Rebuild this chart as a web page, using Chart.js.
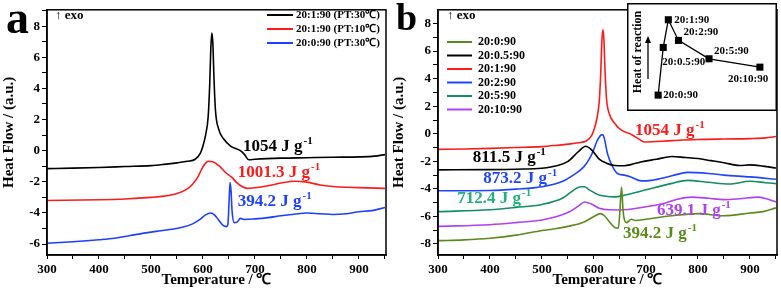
<!DOCTYPE html>
<html>
<head>
<meta charset="utf-8">
<script src="https://cdn.jsdelivr.net/npm/chart.js@4.4.1/dist/chart.umd.min.js"></script>
<style>
  body { margin: 0; background: #fff; }
  #wrap { position: relative; width: 781px; height: 292px; }
  canvas { position: absolute; }
</style>
</head>
<body>
<div id="wrap">
  <canvas id="chartA" width="390" height="292" style="left:0;top:0"></canvas>
  <canvas id="chartB" width="391" height="292" style="left:390px;top:0"></canvas>
  <canvas id="inset" width="150" height="108" style="left:627px;top:3px"></canvas>
</div>
<script>
// panel a: DSC curves, same composition at different preparation temperatures
const aLabels = ['20:1:90 (PT:30℃)', '20:1:90 (PT:10℃)', '20:0:90 (PT:30℃)'];
const aHeat = [1054, 1001.3, 394.2];

const aBlackT = [300, 350, 400, 450, 500, 525, 550, 570, 585, 595, 600, 605, 610, 613, 615, 617, 619, 621, 624, 630, 640, 653, 672, 680, 688, 700, 750, 800, 850, 900, 930, 950];
const aBlackY = [-1.15, -1.12, -1.08, -1.02, -0.96, -0.88, -0.78, -0.68, -0.55, -0.15, 0.3, 1.0, 2.2, 4.3, 6.5, 7.55, 6.9, 4.8, 2.6, 1.4, 0.75, 0.3, 0.0, -0.25, -0.58, -0.55, -0.48, -0.45, -0.42, -0.4, -0.35, -0.25];

const aRedT = [300, 400, 450, 500, 525, 550, 570, 580, 590, 598, 605, 610, 620, 630, 645, 655, 665, 675, 685, 700, 725, 750, 775, 800, 825, 850, 875, 900, 950];
const aRedY = [-3.2, -3.15, -3.1, -3.0, -2.92, -2.75, -2.45, -2.15, -1.7, -1.15, -0.8, -0.68, -0.72, -0.95, -1.45, -1.7, -2.05, -2.3, -2.42, -2.38, -2.25, -2.08, -1.96, -2.02, -2.2, -2.3, -2.35, -2.37, -2.42];

const aBlueT = [300, 350, 400, 430, 460, 490, 510, 540, 560, 580, 595, 605, 615, 622, 630, 638, 645, 648, 650, 652, 654, 656, 660, 665, 672, 680, 700, 725, 750, 775, 800, 825, 850, 875, 900, 925, 950];
const aBlueY = [-5.95, -5.85, -5.72, -5.62, -5.45, -5.28, -5.18, -5.05, -4.92, -4.7, -4.4, -4.12, -4.0, -4.12, -4.45, -4.78, -4.88, -4.7, -3.4, -2.05, -2.6, -3.9, -4.62, -4.6, -4.35, -4.42, -4.38, -4.3, -4.18, -4.08, -4.0, -4.05, -4.1, -4.05, -3.92, -3.85, -3.65];

// panel b: DSC curves for the doping series
const bLabels = ['20:0:90', '20:0.5:90', '20:1:90', '20:2:90', '20:5:90', '20:10:90'];
const ratio = [0, 0.5, 1, 2, 5, 10];
const bHeat = [394.2, 811.5, 1054, 873.2, 712.4, 639.1];

const bOliveT = [300, 350, 400, 450, 500, 525, 550, 580, 600, 612, 620, 630, 640, 647, 650, 653, 656, 659, 663, 672, 680, 700, 750, 800, 850, 900, 925, 950];
const bOliveY = [-7.76, -7.7, -7.58, -7.36, -7.02, -6.9, -6.72, -6.42, -6.0, -5.8, -5.95, -6.4, -6.8, -6.85, -5.5, -3.87, -5.6, -6.3, -6.45, -6.2, -6.3, -6.2, -5.95, -5.8, -5.95, -5.75, -5.65, -5.38];

const bBlackT = [300, 400, 450, 500, 530, 550, 570, 584, 595, 610, 625, 640, 658, 675, 690, 720, 750, 775, 800, 825, 850, 880, 900, 925, 950];
const bBlackY = [-2.62, -2.6, -2.57, -2.5, -2.3, -2.0, -1.3, -0.9, -1.15, -1.84, -2.15, -2.3, -2.32, -2.2, -2.05, -1.85, -1.65, -1.72, -1.8, -1.95, -2.1, -2.3, -2.26, -2.35, -2.49];

const bRedT = [300, 350, 400, 450, 500, 525, 550, 570, 585, 595, 600, 605, 610, 613, 615, 617, 619, 621, 624, 630, 640, 652, 672, 685, 697, 750, 800, 850, 900, 930, 950];
const bRedY = [-1.13, -1.1, -1.06, -1.0, -0.93, -0.85, -0.75, -0.65, -0.52, -0.15, 0.3, 1.0, 2.3, 4.4, 6.6, 7.55, 6.9, 4.8, 2.6, 1.4, 0.75, 0.28, -0.05, -0.35, -0.6, -0.5, -0.42, -0.38, -0.35, -0.3, -0.2];

const bBlueT = [300, 400, 450, 500, 540, 560, 580, 590, 598, 605, 610, 614, 617, 620, 626, 636, 646, 658, 671, 691, 710, 750, 780, 820, 850, 900, 950];
const bBlueY = [-4.14, -4.12, -4.02, -3.84, -3.44, -3.0, -2.42, -1.9, -1.3, -0.6, -0.25, -0.08, -0.07, -0.35, -1.45, -2.4, -2.9, -3.0, -3.13, -3.42, -3.38, -3.05, -2.8, -2.88, -3.0, -3.13, -3.3];

const bTealT = [300, 400, 450, 500, 540, 555, 565, 575, 582, 590, 610, 640, 660, 700, 750, 780, 820, 860, 900, 930, 950];
const bTealY = [-5.65, -5.52, -5.35, -5.13, -4.66, -4.25, -3.98, -3.85, -3.85, -4.05, -4.45, -4.58, -4.45, -4.07, -3.6, -3.38, -3.52, -3.65, -3.45, -3.55, -3.62];

const bPurpleT = [300, 400, 450, 500, 550, 570, 582, 595, 610, 630, 650, 700, 730, 760, 788, 820, 850, 880, 917, 935, 950];
const bPurpleY = [-6.72, -6.6, -6.45, -6.26, -5.72, -5.25, -4.95, -5.1, -5.4, -5.52, -5.53, -5.3, -5.1, -4.75, -4.6, -4.68, -4.78, -4.72, -4.6, -4.75, -4.95];

// tick positions (labels only on every other one)
const tempTicks = [300, 350, 400, 450, 500, 550, 600, 650, 700, 750, 800, 850, 900, 950];
const flowTicksA = [-6, -5, -4, -3, -2, -1, 0, 1, 2, 3, 4, 5, 6, 7, 8, 9];
const flowTicksB = [-8, -7, -6, -5, -4, -3, -2, -1, 0, 1, 2, 3, 4, 5, 6, 7, 8];

const SERIF = '"Liberation Serif", "Times New Roman", serif';
const aColors = ['#000000', '#ff1a1a', '#1f3fff'];
const bColors = ['#5b8a1c', '#000000', '#ff1a1a', '#1f44ff', '#138c62', '#b040f0'];
const bTextColors = ['#5b8a1c', '#000000', '#ff1a1a', '#1f44ff', '#22b07c', '#b040f0'];

// where the heat labels sit, in data units (T, heat flow)
const aHeatPos = [[677, -0.05], [667, -1.68], [667, -3.55]];
const bHeatPos = [[656, -7.6], [367, -2.02], [679, -0.11], [387, -3.57], [337, -5.05], [721, -5.9]];

const pts = (xs, ys) => xs.map((x, i) => ({ x, y: ys[i] }));

const lineSet = (label, xs, ys, color) => ({
  label,
  data: pts(xs, ys),
  borderColor: color,
  backgroundColor: color,
  borderWidth: 1.6,
  pointRadius: 0,
  cubicInterpolationMode: 'monotone',
  fill: false
});

const xAxis = () => ({
  type: 'linear',
  min: 300,
  max: 952,
  afterFit: (s) => { s.height = 37; },
  afterBuildTicks: (s) => { s.ticks = tempTicks.map((value) => ({ value })); },
  grid: { drawOnChartArea: false, color: '#000', tickLength: 4, lineWidth: 1 },
  border: { color: '#000', width: 1.5 },
  ticks: {
    autoSkip: false, maxRotation: 0, padding: 3, color: '#000',
    font: { family: SERIF, size: 13, weight: 'bold' },
    callback: (v) => (v % 100 === 0 ? v : '')
  },
  title: {
    display: true, text: 'Temperature / ℃', color: '#000',
    font: { family: SERIF, size: 15, weight: 'bold' }, padding: { top: 0, bottom: 3 }
  }
});

const yAxis = (min, max, width, tickList) => ({
  min,
  max,
  afterFit: (s) => { s.width = width; },
  afterBuildTicks: (s) => { s.ticks = tickList.map((value) => ({ value })); },
  grid: { drawOnChartArea: false, color: '#000', tickLength: 5, lineWidth: 1 },
  border: { color: '#000', width: 1.5 },
  ticks: {
    autoSkip: false, padding: 2, color: '#000',
    font: { family: SERIF, size: 13, weight: 'bold' },
    callback: (v) => (v % 2 === 0 ? v : '')
  },
  title: {
    display: true, text: 'Heat Flow / (a.u.)', color: '#000',
    font: { family: SERIF, size: 15, weight: 'bold' }, padding: { top: 0, bottom: 0 }
  }
});

const drawHeat = (ctx, x, y, value, color) => {
  ctx.fillStyle = color;
  ctx.textAlign = 'left';
  ctx.textBaseline = 'alphabetic';
  ctx.font = `bold 17px ${SERIF}`;
  const main = `${value} J g`;
  ctx.fillText(main, x, y);
  const w = ctx.measureText(main).width;
  ctx.font = `bold 11px ${SERIF}`;
  ctx.fillText('-1', x + w + 1, y - 7);
};

// frame, legend, letters and heat labels
const decor = (opts) => ({
  id: 'decor',
  afterDraw(chart) {
    const { ctx, chartArea: a, scales } = chart;
    ctx.save();
    ctx.strokeStyle = '#000';
    ctx.lineWidth = 1.5;
    ctx.strokeRect(a.left, a.top, a.right - a.left, a.bottom - a.top);

    ctx.fillStyle = '#000';
    ctx.textBaseline = 'alphabetic';
    ctx.textAlign = 'left';
    ctx.font = `bold ${opts.letterSize}px ${SERIF}`;
    ctx.fillText(opts.letter, 6, opts.letterY);

    ctx.font = `bold 13px ${SERIF}`;
    ctx.textBaseline = 'middle';
    ctx.fillText('↑ exo', opts.exoX, 16);

    ctx.font = `bold ${opts.legendSize}px ${SERIF}`;
    chart.data.datasets.forEach((ds, i) => {
      const y = opts.legendY + i * opts.legendStep;
      ctx.strokeStyle = ds.borderColor;
      ctx.lineWidth = 2;
      ctx.beginPath();
      ctx.moveTo(opts.legendX, y);
      ctx.lineTo(opts.legendX + opts.sample, y);
      ctx.stroke();
      ctx.fillStyle = '#000';
      ctx.fillText(ds.label, opts.legendX + opts.sample + opts.gap, y);
    });

    opts.heat.forEach((v, i) => {
      const [t, f] = opts.heatPos[i];
      drawHeat(ctx, scales.x.getPixelForValue(t), scales.y.getPixelForValue(f), v, opts.heatColors[i]);
    });
    ctx.restore();
  }
});

new Chart(document.getElementById('chartA'), {
  type: 'line',
  data: {
    datasets: [
      lineSet(aLabels[0], aBlackT, aBlackY, aColors[0]),
      lineSet(aLabels[1], aRedT, aRedY, aColors[1]),
      lineSet(aLabels[2], aBlueT, aBlueY, aColors[2])
    ]
  },
  options: {
    responsive: false,
    animation: false,
    devicePixelRatio: 1,
    layout: { padding: { top: 4, right: 4, left: 0, bottom: 0 } },
    plugins: { legend: { display: false }, tooltip: { enabled: false } },
    scales: { x: xAxis(), y: yAxis(-6.7, 9.05, 47, flowTicksA) }
  },
  plugins: [decor({
    letter: 'a', letterSize: 46, letterY: 33, exoX: 55,
    legendX: 267, legendY: 15, legendStep: 14, sample: 26, gap: 3, legendSize: 11,
    heat: aHeat, heatPos: aHeatPos, heatColors: aColors
  })]
});

new Chart(document.getElementById('chartB'), {
  type: 'line',
  data: {
    datasets: [
      lineSet(bLabels[0], bOliveT, bOliveY, bColors[0]),
      lineSet(bLabels[1], bBlackT, bBlackY, bColors[1]),
      lineSet(bLabels[2], bRedT, bRedY, bColors[2]),
      lineSet(bLabels[3], bBlueT, bBlueY, bColors[3]),
      lineSet(bLabels[4], bTealT, bTealY, bColors[4]),
      lineSet(bLabels[5], bPurpleT, bPurpleY, bColors[5])
    ]
  },
  options: {
    responsive: false,
    animation: false,
    devicePixelRatio: 1,
    layout: { padding: { top: 3, right: 4, left: 0, bottom: 0 } },
    plugins: { legend: { display: false }, tooltip: { enabled: false } },
    scales: { x: xAxis(), y: yAxis(-8.8, 9.0, 48, flowTicksB) }
  },
  plugins: [decor({
    letter: 'b', letterSize: 38, letterY: 30, exoX: 57,
    legendX: 57, legendY: 42, legendStep: 13.5, sample: 25, gap: 6, legendSize: 12,
    heat: bHeat, heatPos: bHeatPos, heatColors: bTextColors
  })]
});

// inset: heat of reaction against dopant amount
const insetOffsets = [[5, 0], [-1, 15], [6, 0], [5, -8], [5, -8], [-32, 12]];

new Chart(document.getElementById('inset'), {
  type: 'line',
  data: {
    datasets: [{
      data: pts(ratio, bHeat),
      borderColor: '#000',
      borderWidth: 1.3,
      pointStyle: 'rect',
      pointRadius: 5,
      pointBackgroundColor: '#000',
      pointBorderColor: '#000',
      pointBorderWidth: 0,
      tension: 0
    }]
  },
  options: {
    responsive: false,
    animation: false,
    devicePixelRatio: 1,
    layout: { padding: 0 },
    plugins: { legend: { display: false }, tooltip: { enabled: false } },
    scales: {
      x: { type: 'linear', display: false, min: -2.57, max: 11.19 },
      y: { display: false, min: 299, max: 1157 }
    }
  },
  plugins: [{
    id: 'insetDecor',
    beforeDraw(chart) {
      const { ctx, width, height } = chart;
      ctx.save();
      ctx.fillStyle = '#fff';
      ctx.fillRect(0, 0, width, height);
      ctx.restore();
    },
    afterDraw(chart) {
      const { ctx, width, height } = chart;
      const meta = chart.getDatasetMeta(0);
      ctx.save();
      ctx.fillStyle = '#000';
      ctx.font = `bold 11px ${SERIF}`;
      ctx.textAlign = 'left';
      ctx.textBaseline = 'middle';
      meta.data.forEach((p, i) => {
        ctx.fillText(bLabels[i], p.x + insetOffsets[i][0], p.y + insetOffsets[i][1]);
      });

      ctx.translate(11, 49);
      ctx.rotate(-Math.PI / 2);
      ctx.textAlign = 'center';
      ctx.font = `bold 12px ${SERIF}`;
      ctx.fillText('Heat of reaction', 0, 0);
      ctx.setTransform(1, 0, 0, 1, 0, 0);

      ctx.strokeStyle = '#000';
      ctx.lineWidth = 1.3;
      ctx.beginPath();
      ctx.moveTo(21, 76);
      ctx.lineTo(21, 38);
      ctx.stroke();
      ctx.beginPath();
      ctx.moveTo(21, 33);
      ctx.lineTo(18, 40);
      ctx.lineTo(24, 40);
      ctx.closePath();
      ctx.fill();

      ctx.lineWidth = 1.5;
      ctx.strokeRect(0.75, 0.75, width - 1.5, height - 1.5);
      ctx.restore();
    }
  }]
});
</script>
</body>
</html>
